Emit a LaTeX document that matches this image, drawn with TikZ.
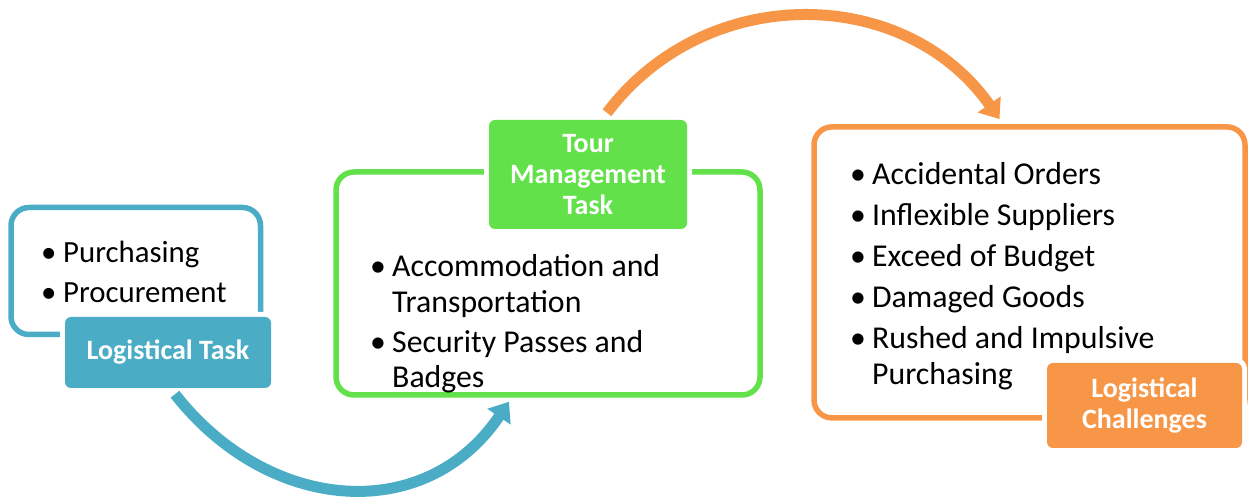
\documentclass[tikz,border=0pt]{standalone}
\usepackage{fontspec}
\setmainfont{Carlito}
\usetikzlibrary{arrows.meta}
\definecolor{taskblue}{HTML}{4BACC6}
\definecolor{tourgreen}{HTML}{62E14A}
\definecolor{challorange}{HTML}{F79646}
\begin{document}
\begin{tikzpicture}[x=1pt,y=1pt,
    frame/.style={draw=#1, line width=5.5pt, rounded corners=18pt, inner sep=0pt},
    tag/.style={fill=#1, preaction={draw=white, line width=10pt}, rounded corners=6pt,
      text=white, font=\fontsize{28}{31}\selectfont\bfseries, align=center, inner sep=0pt},
    list/.style={anchor=base west, inner sep=0pt, font=\fontsize{#1}{35.5}\selectfont},
    flow/.style={line width=11pt, -{Triangle[length=18pt,width=27pt]}}]
  \useasboundingbox (0,0) rectangle (1248,498);
  \node[frame=taskblue, minimum width=249.5pt, minimum height=127pt] (task) at (135.75,227) {};
  \node[frame=tourgreen, minimum width=424pt, minimum height=223pt] (tour) at (548,214.5) {};
  \node[frame=challorange, minimum width=431pt, minimum height=291pt] (chal) at (1029.5,225.6) {};
  \node[tag=taskblue, minimum width=206pt, minimum height=71pt] (tasktag) at (168,145.5) {Logistical Task};
  \node[tag=tourgreen, minimum width=198pt, minimum height=109pt] (tourtag) at (588,323.5) {Tour\\Management\\Task};
  \node[tag=challorange, minimum width=195pt, minimum height=85pt] (chaltag) at (1144.5,92.5) {Logistical\\Challenges};
  \node[list=30.8] (tasklist) at (41,235) {\begin{tabular}[t]{@{}p{22pt}@{}l@{}}
      \textbullet & Purchasing\\[4.5pt]
      \textbullet & Procurement
    \end{tabular}};
  \node[list=31.8] (tourlist) at (370,221.3) {\begin{tabular}[t]{@{}p{22pt}@{}l@{}}
      \textbullet & Accommodation and\\
      & Transportation\\[4.5pt]
      \textbullet & Security Passes and\\
      & Badges
    \end{tabular}};
  \node[list=31.8] (challist) at (850,313) {\begin{tabular}[t]{@{}p{22pt}@{}l@{}}
      \textbullet & Accidental Orders\\[5.5pt]
      \textbullet & Inflexible Suppliers\\[5.5pt]
      \textbullet & Exceed of Budget\\[5.5pt]
      \textbullet & Damaged Goods\\[5.5pt]
      \textbullet & Rushed and Impulsive\\
      & Purchasing
    \end{tabular}};
  \draw[flow, taskblue] ([xshift=7pt,yshift=-6pt]tasktag.south)
    to[out=-52, in=-124, looseness=1.15] ([xshift=-39pt,yshift=-4pt]tour.south);
  \draw[flow, challorange] ([xshift=19pt,yshift=7pt]tourtag.north)
    to[out=53, in=125, looseness=1.07] ([xshift=-30pt,yshift=5pt]chal.north);
\end{tikzpicture}
\end{document}
